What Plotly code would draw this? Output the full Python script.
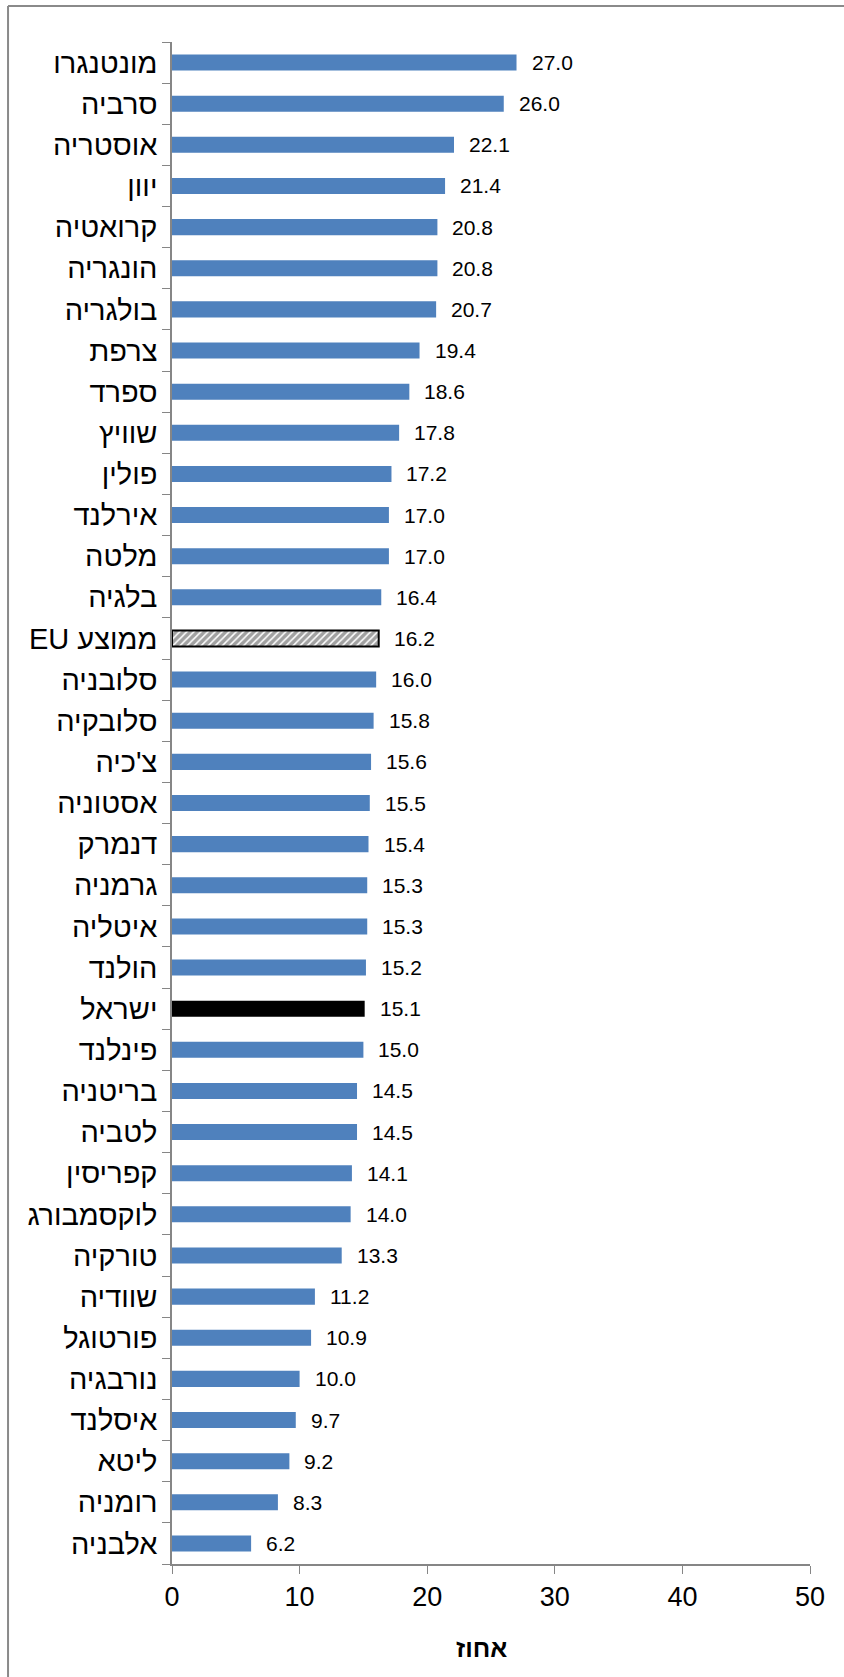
import plotly.graph_objects as go

# Share of population by country, top to bottom
countries = [
    "מונטנגרו", "סרביה", "אוסטריה", "יוון", "קרואטיה", "הונגריה", "בולגריה",
    "צרפת", "ספרד", "שוויץ", "פולין", "אירלנד", "מלטה", "בלגיה", "ממוצע EU",
    "סלובניה", "סלובקיה", "צ'כיה", "אסטוניה", "דנמרק", "גרמניה", "איטליה",
    "הולנד", "ישראל", "פינלנד", "בריטניה", "לטביה", "קפריסין", "לוקסמבורג",
    "טורקיה", "שוודיה", "פורטוגל", "נורבגיה", "איסלנד", "ליטא", "רומניה", "אלבניה",
]
values = [
    27.0, 26.0, 22.1, 21.4, 20.8, 20.8, 20.7,
    19.4, 18.6, 17.8, 17.2, 17.0, 17.0, 16.4, 16.2,
    16.0, 15.8, 15.6, 15.5, 15.4, 15.3, 15.3,
    15.2, 15.1, 15.0, 14.5, 14.5, 14.1, 14.0,
    13.3, 11.2, 10.9, 10.0, 9.7, 9.2, 8.3, 6.2,
]
x_ticks = [0, 10, 20, 30, 40, 50]
x_title = "אחוז"
EU_LABEL = "ממוצע EU"
ISRAEL = "ישראל"

BLUE = "#4F81BD"
FONT = "Arial, Liberation Sans, sans-serif"
TICK_SIZE = 29

colors, shapes, line_w = [], [], []
for c in countries:
    if c == ISRAEL:
        colors.append("black"); shapes.append(""); line_w.append(0)
    elif c == EU_LABEL:
        colors.append("white"); shapes.append("/"); line_w.append(2)
    else:
        colors.append(BLUE); shapes.append(""); line_w.append(0)

# labels are right-to-left text: wrap them in an RTL embedding so that
# mixed Hebrew/Latin labels keep their reading order
tick_text = [f"\u202b{c}\u202c" for c in countries]

fig = go.Figure()
fig.add_trace(go.Bar(
    x=values, y=countries, orientation="h",
    marker=dict(
        color=colors,
        line=dict(color="black", width=line_w),
        pattern=dict(shape=shapes, fgcolor="black", bgcolor="white",
                     size=5, solidity=0.7),
    ),
    hoverinfo="skip",
))

# value labels to the right of each bar
for c, v in zip(countries, values):
    fig.add_annotation(
        x=v, y=c, text=f"{v:.1f}", showarrow=False,
        xanchor="left", yanchor="middle", xshift=13,
        font=dict(family=FONT, size=21, color="black"),
    )

fig.add_annotation(
    x=0.485, y=-0.0555, xref="paper", yref="paper", text=f"<b>{x_title}</b>",
    showarrow=False, xanchor="center", yanchor="middle",
    font=dict(family=FONT, size=25, color="black"),
)

# outer frame (top and left edges)
frame = dict(type="line", xref="paper", yref="paper",
             line=dict(color="#8a8a8a", width=2))
fig.add_shape(**frame, x0=-0.257, x1=1.1, y0=1.0237, y1=1.0237)
fig.add_shape(**frame, x0=-0.257, x1=-0.257, y0=1.0237, y1=-0.1)

fig.update_layout(
    width=844, height=1677,
    margin=dict(l=172, r=34, t=42, b=113),
    plot_bgcolor="white", paper_bgcolor="white",
    bargap=0.61, showlegend=False,
    font=dict(family=FONT, color="black"),
)
fig.update_xaxes(
    range=[0, 50], tickvals=x_ticks, ticks="outside", ticklen=8,
    tickcolor="#868686", showline=True, linecolor="#868686", linewidth=1.5,
    showgrid=False, zeroline=False, tickfont=dict(size=27, family=FONT),
)
fig.update_yaxes(
    categoryorder="array", categoryarray=countries, autorange="reversed",
    tickvals=countries, ticktext=tick_text,
    ticks="outside", ticklen=8, tickson="boundaries", tickcolor="#868686",
    ticklabelstandoff=7,
    showline=True, linecolor="#868686", linewidth=1.5, showgrid=False,
    tickfont=dict(size=TICK_SIZE, family=FONT),
)

fig.write_html("out.html")
